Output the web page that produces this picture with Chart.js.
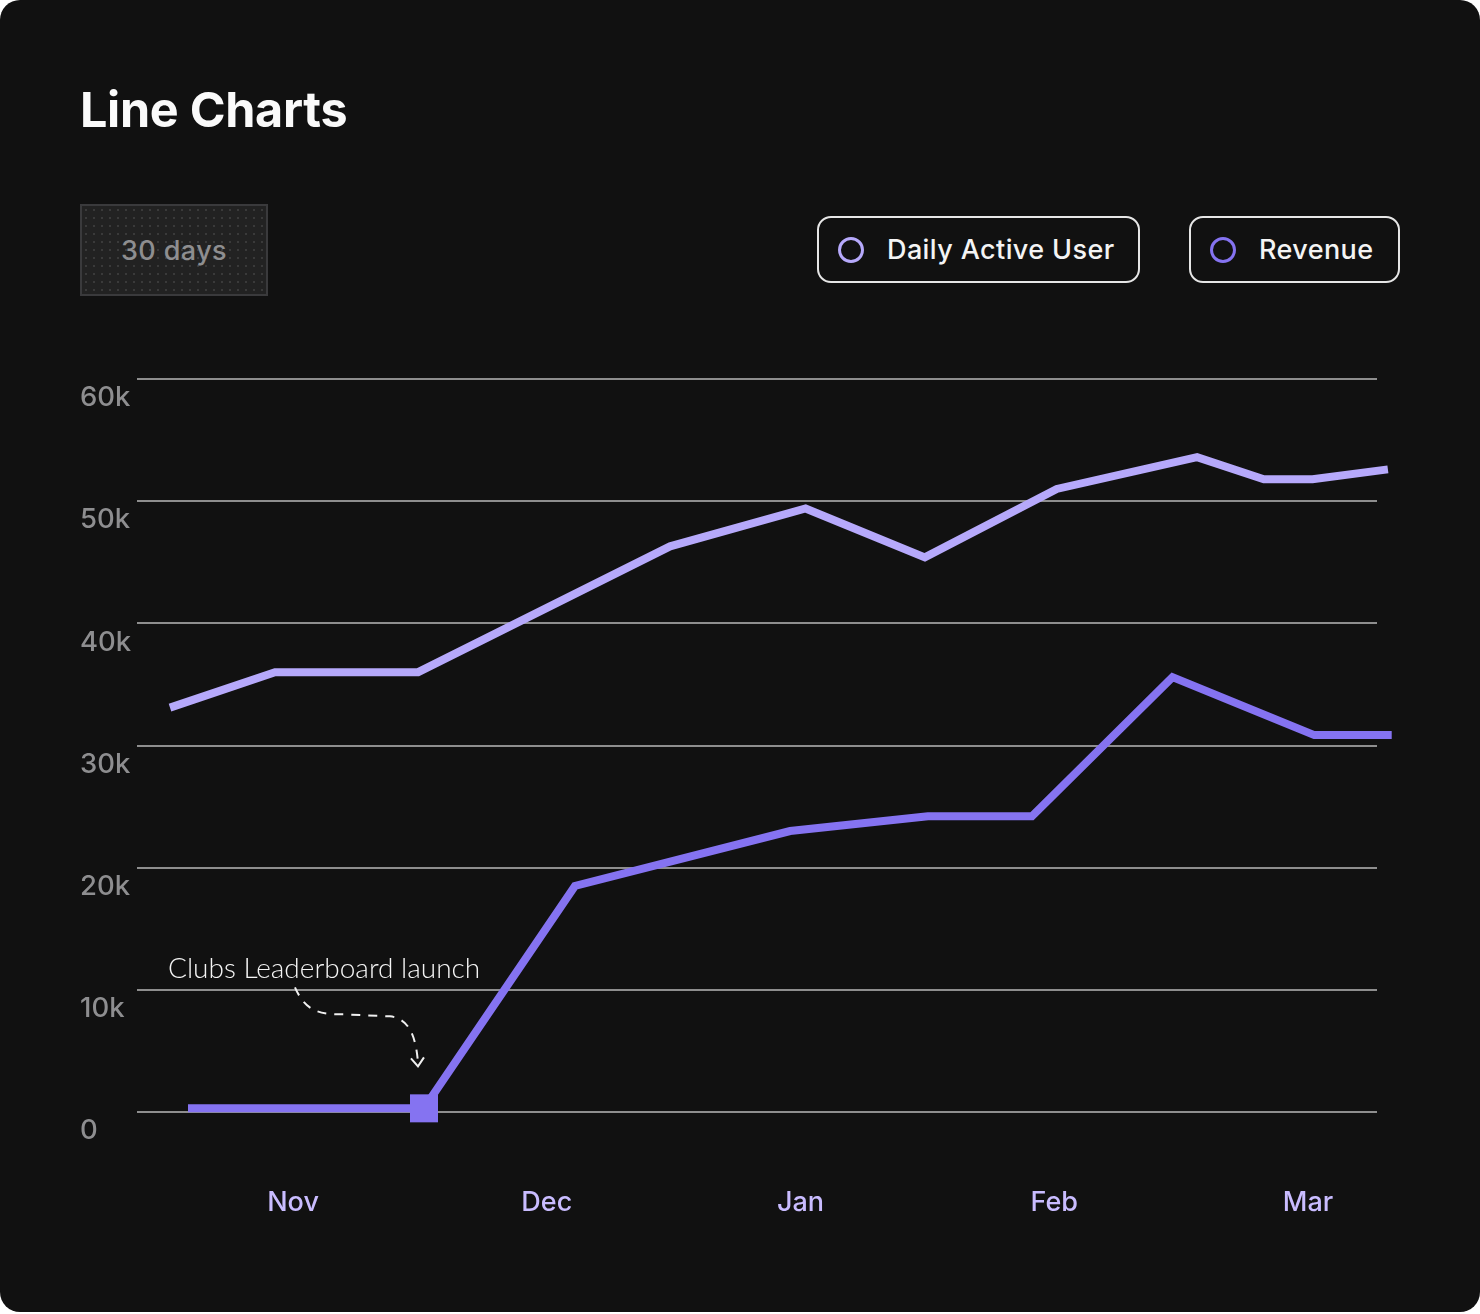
<!DOCTYPE html>
<html>
<head>
<meta charset="utf-8">
<script src="https://cdn.jsdelivr.net/npm/chart.js@4.4.1/dist/chart.umd.min.js"></script>
<style>
  html, body { margin: 0; padding: 0; background: #ffffff; }
  #card {
    position: absolute; left: 0; top: 0; width: 1480px; height: 1312px;
    background: #111111; border-radius: 20px; overflow: hidden;
    font-family: Inter, Lato, sans-serif;
  }
  #title {
    position: absolute; left: 80px; top: 80px; margin: 0;
    font-size: 48.5px; font-weight: 700; color: #fafafa; line-height: 60px; letter-spacing: -0.3px;
  }
  #range {
    position: absolute; left: 80px; top: 204px; width: 188px; height: 92px;
    box-sizing: border-box; border: 2px solid #3a3a3c;
    background-color: #222222;
    background-image: radial-gradient(circle, #3a3a3a 0.8px, transparent 1.2px);
    background-size: 8px 8px;
    color: #8e8e90; font-size: 27px; font-weight: 500; letter-spacing: 0.4px;
    display: flex; align-items: center; justify-content: center;
  }
  .leg {
    position: absolute; top: 216px; height: 67px; box-sizing: border-box;
    border: 2px solid #e6e6e6; border-radius: 14px; background: #111111;
    display: flex; align-items: center; color: #f4f4f4; font-size: 27px; font-weight: 500;
    letter-spacing: 0.4px;
  }
  .leg .dot {
    width: 26px; height: 26px; box-sizing: border-box; border-radius: 50%;
    border: 3.5px solid; margin-right: 23px; flex: none;
  }
  #leg1 { left: 817px; width: 323px; padding-left: 19px; }
  #leg2 { left: 1189px; width: 211px; padding-left: 19px; }
  #chartWrap { position: absolute; left: 0; top: 0; width: 1480px; height: 1312px; }
</style>
</head>
<body>
<div id="card">
  <h1 id="title">Line Charts</h1>
  <div id="range">30 days</div>
  <div class="leg" id="leg1"><span class="dot" style="border-color:#b6a9fb"></span>Daily Active User</div>
  <div class="leg" id="leg2"><span class="dot" style="border-color:#8573f1"></span>Revenue</div>
  <div id="chartWrap"><canvas id="c" width="1480" height="1312"></canvas></div>
</div>
<script>
// ---- data ----
const months = ['Nov', 'Dec', 'Jan', 'Feb', 'Mar'];
const monthPos = [0, 1, 2, 3, 4];
const dauX = [-0.485, -0.071, 0.493, 1.486, 2.02, 2.49, 3.01, 3.563, 3.826, 4.018, 4.315];
const dauY = [33100, 36000, 36000, 46300, 49400, 45400, 51000, 53600, 51800, 51800, 52600];
const revX = [-0.414, 0.516, 1.111, 1.959, 2.502, 2.912, 3.466, 4.025, 4.33];
const revY = [300, 300, 18500, 23000, 24200, 24200, 35600, 30850, 30850];
const yTicks = [0, 10000, 20000, 30000, 40000, 50000, 60000];
const yTickLabels = ['0', '10k', '20k', '30k', '40k', '50k', '60k'];
const seriesNames = ['Daily Active User', 'Revenue'];
const annotationText = 'Clubs Leaderboard launch';
const launchIndex = 1;

const DAU_COLOR = '#b6a9fb';
const REV_COLOR = '#8573f1';

const annotationPlugin = {
  id: 'launchNote',
  afterDatasetsDraw(chart) {
    const pt = chart.getDatasetMeta(1).data[launchIndex];
    const x0 = pt.x, y0 = pt.y;
    const ctx = chart.ctx;
    ctx.save();
    ctx.fillStyle = '#f5f5f5';
    ctx.font = '300 28px Lato, sans-serif';
    ctx.textBaseline = 'alphabetic';
    ctx.fillText(annotationText, x0 - 256, y0 - 130);
    // dashed curved arrow
    ctx.strokeStyle = '#f0f0f0';
    ctx.lineWidth = 2;
    ctx.setLineDash([9, 8]);
    ctx.beginPath();
    ctx.moveTo(x0 - 129, y0 - 121);
    ctx.bezierCurveTo(x0 - 118, y0 - 96, x0 - 104, y0 - 94, x0 - 80, y0 - 94);
    ctx.lineTo(x0 - 34, y0 - 92);
    ctx.bezierCurveTo(x0 - 14, y0 - 90, x0 - 8, y0 - 70, x0 - 6, y0 - 46);
    ctx.stroke();
    ctx.setLineDash([]);
    ctx.beginPath();
    ctx.moveTo(x0 - 13, y0 - 50);
    ctx.lineTo(x0 - 6, y0 - 42);
    ctx.lineTo(x0, y0 - 51);
    ctx.stroke();
    ctx.restore();
  }
};

new Chart(document.getElementById('c'), {
  type: 'line',
  data: {
    datasets: [
      {
        label: seriesNames[0],
        data: dauX.map((x, i) => ({ x: x, y: dauY[i] })),
        borderColor: DAU_COLOR,
        borderWidth: 8,
        pointRadius: 0,
        tension: 0,
        clip: false
      },
      {
        label: seriesNames[1],
        data: revX.map((x, i) => ({ x: x, y: revY[i] })),
        borderColor: REV_COLOR,
        backgroundColor: REV_COLOR,
        borderWidth: 8,
        pointRadius: revX.map((_, i) => i === launchIndex ? 19.8 : 0),
        pointStyle: 'rect',
        pointBackgroundColor: REV_COLOR,
        pointBorderWidth: 0,
        tension: 0,
        clip: false
      }
    ]
  },
  options: {
    responsive: false,
    animation: false,
    events: [],
    devicePixelRatio: 1,
    layout: { padding: { left: 80, right: 103, top: 379, bottom: 0 } },
    plugins: { legend: { display: false }, tooltip: { enabled: false } },
    scales: {
      x: {
        type: 'linear',
        min: -0.615,
        max: 4.272,
        afterBuildTicks: (s) => { s.ticks = monthPos.map(v => ({ value: v })); },
        afterFit: (s) => { s.height = 200; },
        grid: { display: false },
        border: { display: false },
        ticks: {
          padding: 67,
          color: '#c9bcff',
          font: { family: 'Inter', size: 27, weight: '500' },
          callback: (v) => { const i = monthPos.indexOf(v); return i >= 0 ? months[i] : ''; }
        }
      },
      y: {
        type: 'linear',
        min: 0,
        max: 60000,
        afterBuildTicks: (s) => { s.ticks = yTicks.map(v => ({ value: v })); },
        afterFit: (s) => { s.width = 57; },
        grid: { color: '#8e8e8e', lineWidth: 2, drawTicks: false },
        border: { display: false },
        ticks: {
          crossAlign: 'far',
          padding: 0,
          labelOffset: 19,
          color: '#8e8e90',
          font: { family: 'Inter', size: 27.5, weight: '500' },
          callback: (v) => { const i = yTicks.indexOf(v); return i >= 0 ? yTickLabels[i] : ''; }
        }
      }
    }
  },
  plugins: [annotationPlugin]
});
</script>
</body>
</html>
